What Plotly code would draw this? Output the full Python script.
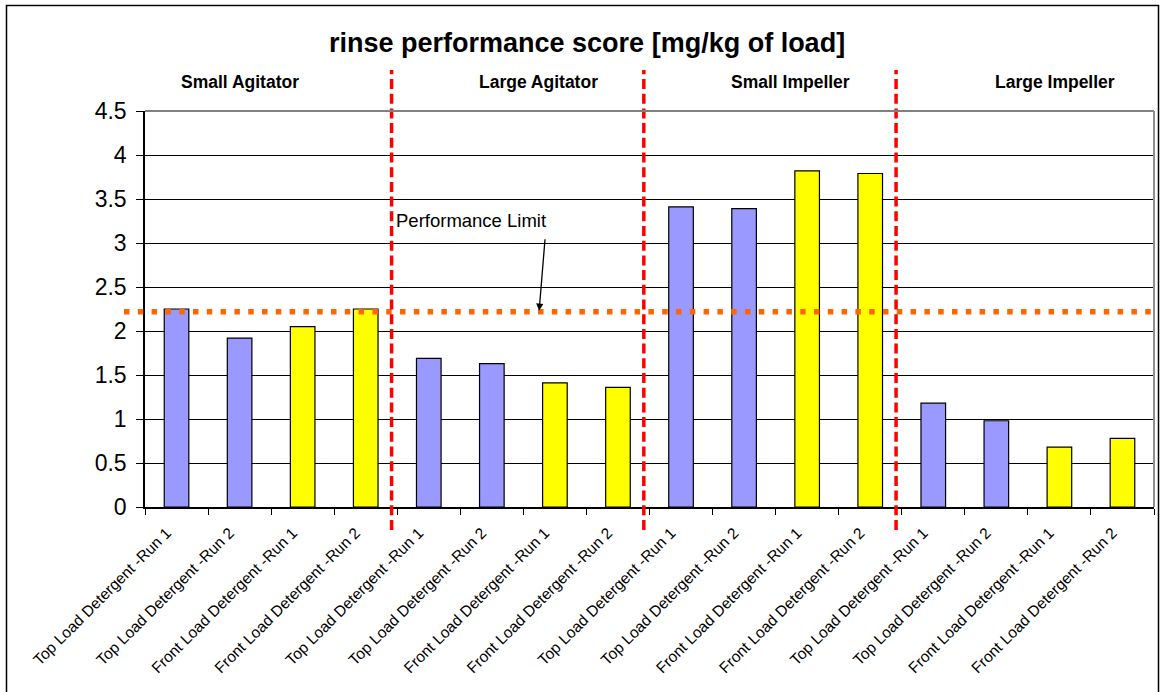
import plotly.graph_objects as go

# ---------------- data ----------------
groups = ["Small Agitator", "Large Agitator", "Small Impeller", "Large Impeller"]
runs = ["Top Load Detergent -Run 1", "Top Load Detergent -Run 2",
        "Front Load Detergent -Run 1", "Front Load Detergent -Run 2"]
detergent = ["Top", "Top", "Front", "Front"]

small_agitator = [2.25, 1.92, 2.05, 2.25]
large_agitator = [1.69, 1.63, 1.41, 1.36]
small_impeller = [3.41, 3.39, 3.82, 3.79]
large_impeller = [1.18, 0.98, 0.68, 0.78]

performance_limit = 2.22
y_ticks = [0, 0.5, 1, 1.5, 2, 2.5, 3, 3.5, 4, 4.5]

# ---------------- build ----------------
all_scores = small_agitator + large_agitator + small_impeller + large_impeller
labels = runs * len(groups)
kinds = detergent * len(groups)
xpos = list(range(len(all_scores)))
colors = ["#9999FF" if k == "Top" else "#FFFF00" for k in kinds]

W, H = 1161, 692
ML, MR, MT, MB = 145, 7, 111, 185
PW, PH = W - ML - MR, H - MT - MB


def px_x(px):
    return (px - ML) / PW


def px_y(py):
    return (H - MB - py) / PH


FONT = "Liberation Sans, Arial, sans-serif"

fig = go.Figure()
fig.add_trace(go.Bar(
    x=xpos, y=all_scores, width=0.39,
    marker=dict(color=colors, line=dict(color="black", width=1.2)),
    showlegend=False, hoverinfo="y",
))

shapes = []
# performance limit dotted line
shapes.append(dict(type="line", xref="paper", yref="y",
                   x0=px_x(124), x1=1.0, y0=performance_limit, y1=performance_limit,
                   line=dict(color="#FF6600", width=5.5, dash="5.5px,8.3px"), layer="above"))
# group dividers
n = len(runs)
for g in range(1, len(groups)):
    bx = g * n - 0.5 - 0.09
    shapes.append(dict(type="line", xref="x", yref="paper", x0=bx, x1=bx,
                       y0=px_y(530), y1=px_y(70),
                       line=dict(color="#FF0000", width=3.5, dash="10px,4.7px"), layer="above"))
# plot area top & right border (gray)
shapes.append(dict(type="line", xref="paper", yref="paper", x0=0, x1=1, y0=1, y1=1,
                   line=dict(color="#808080", width=2), layer="above"))
shapes.append(dict(type="line", xref="paper", yref="paper", x0=1, x1=1, y0=0, y1=1,
                   line=dict(color="#909090", width=2), layer="above"))
# outer chart frame
shapes.append(dict(type="rect", xref="paper", yref="paper",
                   x0=px_x(6.5), x1=px_x(1158.5), y0=px_y(720), y1=px_y(5.5),
                   line=dict(color="black", width=1.5), fillcolor="rgba(0,0,0,0)"))

annotations = []
annotations.append(dict(text="<b>rinse performance score [mg/kg of load]</b>",
                        xref="paper", yref="paper", x=px_x(586.5), y=px_y(43),
                        xanchor="center", yanchor="middle", showarrow=False,
                        font=dict(family=FONT, size=27, color="black")))
group_centers_px = [240, 538, 790.5, 1055]
for name, cx in zip(groups, group_centers_px):
    annotations.append(dict(text="<b>%s</b>" % name, xref="paper", yref="paper",
                            x=px_x(cx), y=px_y(82), xanchor="center", yanchor="middle",
                            showarrow=False, font=dict(family=FONT, size=17.5, color="black")))
annotations.append(dict(text="Performance Limit", xref="paper", yref="paper",
                        x=px_x(394), y=px_y(220), xanchor="left", yanchor="middle",
                        showarrow=False, bgcolor="white", borderpad=1,
                        font=dict(family=FONT, size=18.5, color="black")))
annotations.append(dict(text="", xref="x", yref="y", x=5.75, y=performance_limit + 0.01,
                        showarrow=True, ax=6, ay=-73, arrowhead=2, arrowsize=1.1,
                        arrowwidth=1.3, arrowcolor="black"))

fig.update_layout(
    width=W, height=H,
    margin=dict(l=ML, r=MR, t=MT, b=MB, autoexpand=False),
    paper_bgcolor="white", plot_bgcolor="white",
    font=dict(family=FONT, color="black"),
    bargap=0.61,
    xaxis=dict(range=[-0.5, len(all_scores) - 0.5], tickmode="array", tickvals=xpos,
               ticktext=labels, tickangle=-45, ticks="", showgrid=False, zeroline=False,
               showline=True, linecolor="black", linewidth=1.5,
               tickfont=dict(family=FONT, size=15.5, color="black"),
               ticklabelstandoff=9, ticklabelshift=-10,
               minor=dict(tickmode="array", tickvals=[i - 0.5 for i in range(len(all_scores) + 1)],
                          ticks="outside", ticklen=6, tickcolor="black", tickwidth=1.2,
                          showgrid=False),
               fixedrange=True),
    yaxis=dict(range=[0, 4.5], tickmode="array", tickvals=y_ticks,
               ticktext=[("%g" % v) for v in y_ticks],
               ticks="outside", ticklen=7, tickcolor="black", tickwidth=1.2,
               showgrid=True, gridcolor="#000000", gridwidth=1,
               zeroline=False, showline=True, linecolor="black", linewidth=1.5,
               tickfont=dict(family=FONT, size=23, color="black"),
               ticklabelstandoff=5,
               fixedrange=True),
    shapes=shapes,
    annotations=annotations,
)

fig.write_html("out.html", config={"displayModeBar": False},
               post_script="document.body.style.margin='0px';document.body.style.overflow='hidden';")
